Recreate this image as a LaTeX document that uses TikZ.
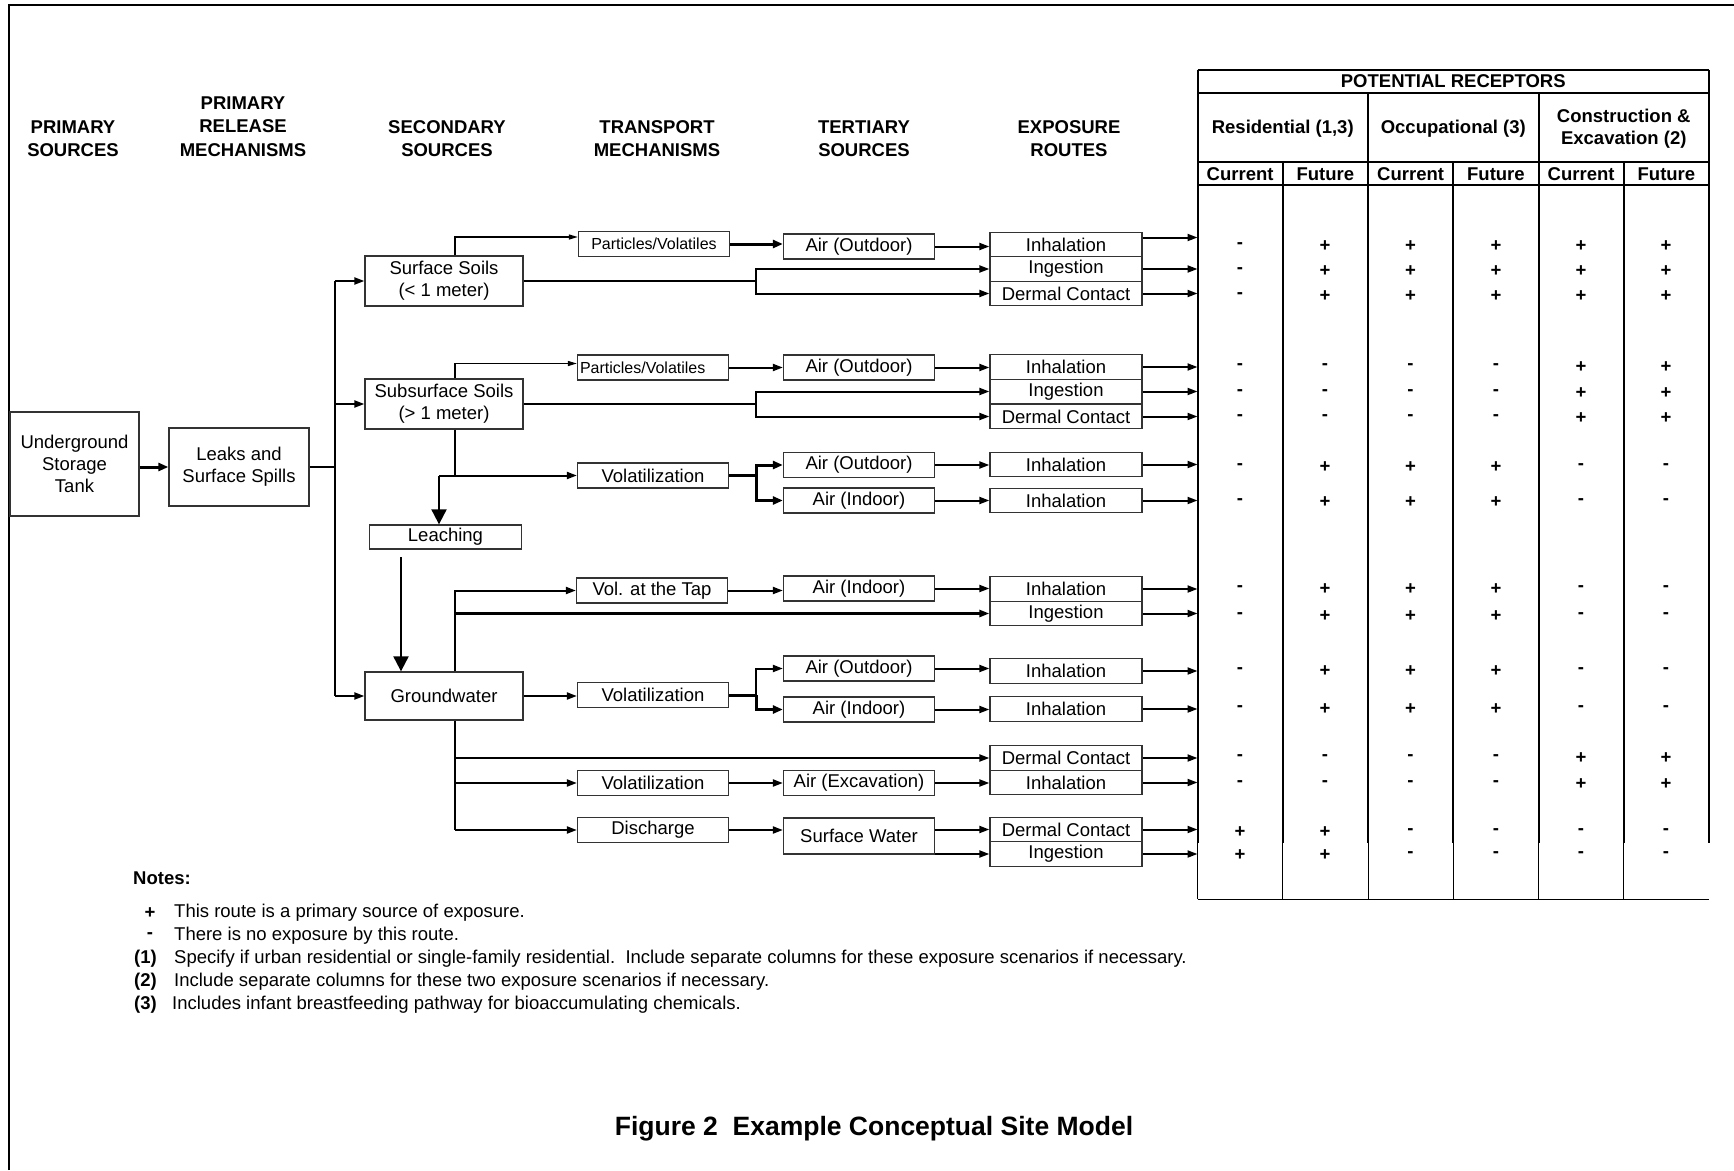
\documentclass[tikz,border=0pt]{standalone}
\usepackage{fontspec}
\setmainfont{Liberation Sans}
\usetikzlibrary{arrows.meta,calc}

\newcommand\fsbox{\fontsize{18.5}{22}\selectfont}
\newcommand\fshead{\fontsize{18.5}{23.3}\selectfont\bfseries}
\newcommand\fssmall{\fontsize{16}{19}\selectfont}
\newcommand\fstitle{\fontsize{26.5}{30}\selectfont\bfseries}

\begin{document}
\begin{tikzpicture}[x=1pt, y=-1pt,
  box/.style={draw=black!80, line width=1.3pt, inner sep=0pt, align=center, font=\fsbox},
  tbox/.style={box, minimum width=151pt, minimum height=25pt},
  ebox/.style={box, minimum width=152pt, minimum height=24.5pt},
  hdr/.style={align=center, font=\fshead, inner sep=0pt},
  sgn/.style={font=\fshead, inner sep=0pt},
  note/.style={anchor=west, font=\fsbox, inner sep=0pt},
  cline/.style={line width=2pt},
  tabline/.style={line width=2pt},
  arr/.style={line width=2pt, -{Triangle[length=10pt,width=7pt]}},
  thinarr/.style={line width=1.3pt, -{Triangle[length=9pt,width=5pt]}},
  thickarr/.style={line width=3pt, -{Triangle[length=10pt,width=8pt]}},
  bigarr/.style={line width=2pt, -{Triangle[length=15pt,width=15pt]}}]

\useasboundingbox (0,0) rectangle (1734,1170);

% Cornice
\draw[line width=2pt] (8.5,1170) -- (8.5,4.5) -- (1734,4.5);

% Intestazioni
\node[hdr] (hPs) at (73,138.5) {PRIMARY\\SOURCES};
\node[hdr] (hPr) at (243,126.7) {PRIMARY\\RELEASE\\MECHANISMS};
\node[hdr] (hSs) at (447,138.5) {SECONDARY\\SOURCES};
\node[hdr] (hTm) at (657,138.5) {TRANSPORT\\MECHANISMS};
\node[hdr] (hTs) at (864,138.5) {TERTIARY\\SOURCES};
\node[hdr] (hEr) at (1069,138.5) {EXPOSURE\\ROUTES};

% Sorgenti primarie e secondarie
\node[box, minimum width=129pt, minimum height=104pt] (ust) at (74.5,464) {Underground\\Storage\\Tank};
\node[box, minimum width=140pt, minimum height=78pt] (leak) at (239,467) {Leaks and\\Surface Spills};
\node[box, minimum width=158pt, minimum height=50pt] (ss) at (444,281) {Surface Soils\\(< 1 meter)};
\node[box, minimum width=158pt, minimum height=50pt] (sub) at (444,404) {Subsurface Soils\\(> 1 meter)};
\node[box, minimum width=152pt, minimum height=24pt] (leach) at (445.5,537) {Leaching};
\node[box, minimum width=158pt, minimum height=48pt] (gw) at (444,696) {Groundwater};

% Meccanismi di trasporto
\node[tbox, font=\fssmall] (pv1) at (654,244) {Particles/Volatiles};
\node[tbox, font=\fssmall, text width=146pt, align=left] (pv2) at (653,367.5) {Particles/Volatiles};
\node[tbox] (vol1) at (653,475.5) {Volatilization};
\node[tbox] (tap) at (652,590.5) {Vol. at the Tap};
\node[tbox] (vol2) at (653,695) {Volatilization};
\node[tbox] (vol3) at (653,783) {Volatilization};
\node[tbox] (dis) at (653,830) {Discharge};

% Sorgenti terziarie
\node[tbox] (ao1) at (859,246.5) {Air (Outdoor)};
\node[tbox] (ao2) at (859,367.5) {Air (Outdoor)};
\node[tbox] (ao3) at (859,465) {Air (Outdoor)};
\node[tbox] (ai1) at (859,500.5) {Air (Indoor)};
\node[tbox] (ai2) at (859,588.5) {Air (Indoor)};
\node[tbox] (ao4) at (859,668.5) {Air (Outdoor)};
\node[tbox] (ai3) at (859,709.5) {Air (Indoor)};
\node[tbox] (aex) at (859,783) {Air (Excavation)};
\node[tbox, minimum height=36pt] (sw) at (859,836) {Surface Water};

% Vie di esposizione
\node[ebox] (in1) at (1066,244.5) {Inhalation};
\node[ebox] (ig1) at (1066,269) {Ingestion};
\node[ebox] (dc1) at (1066,293.5) {Dermal Contact};
\node[ebox] (in2) at (1066,367) {Inhalation};
\node[ebox] (ig2) at (1066,391.5) {Ingestion};
\node[ebox] (dc2) at (1066,416.5) {Dermal Contact};
\node[ebox] (in3) at (1066,464.5) {Inhalation};
\node[ebox] (in4) at (1066,500.5) {Inhalation};
\node[ebox] (in5) at (1066,589) {Inhalation};
\node[ebox] (ig5) at (1066,613.5) {Ingestion};
\node[ebox] (in6) at (1066,671) {Inhalation};
\node[ebox] (in7) at (1066,709) {Inhalation};
\node[ebox] (dc3) at (1066,758) {Dermal Contact};
\node[ebox] (in8) at (1066,782.5) {Inhalation};
\node[ebox] (dc4) at (1066,829.5) {Dermal Contact};
\node[ebox] (ig6) at (1066,854) {Ingestion};

% Linee guida
\coordinate (bus) at (335,0);
\coordinate (tr) at (455,0);
\coordinate (sp) at (756,0);
\coordinate (tab) at (1197.5,0);

% Rilascio
\draw[thickarr] (ust.east |- leak) -- (leak.west);
\draw[cline] (leak.east) -- (leak.east -| bus);
\draw[cline] (bus |- ss) -- (bus |- gw);
\draw[arr] (bus |- ss) -- (ss.west);
\draw[arr] (bus |- sub) -- (sub.west);
\draw[arr] (bus |- gw) -- (gw.west);

% Suoli superficiali
\draw[thinarr] (ss.north -| tr) |- ($(pv1.west)+(0,-7)$);
\draw[thickarr] (pv1.east) -- (pv1.east -| ao1.west);
\draw[arr] (ao1.east) -- (ao1.east -| in1.west);
\draw[cline] (ss.east) -- (ss.east -| sp);
\draw[arr] (ss.east -| sp) |- (ig1.west);
\draw[arr] (ss.east -| sp) |- (dc1.west);

% Suoli profondi
\draw[thinarr] (sub.north -| tr) |- ($(pv2.west)+(0,-4)$);
\draw[arr] (pv2.east) -- (pv2.east -| ao2.west);
\draw[arr] (ao2.east) -- (ao2.east -| in2.west);
\draw[cline] (sub.east) -- (sub.east -| sp);
\draw[arr] (sub.east -| sp) |- (ig2.west);
\draw[arr] (sub.east -| sp) |- (dc2.west);
\draw[arr] (sub.south -| tr) |- (vol1.west);
\coordinate (lk) at (439,475.5);
\draw[cline] (lk) -- (lk -| tr);
\draw[bigarr] (lk) -- (lk |- leach.north);
\draw[line width=3pt] (vol1.east) -- (vol1.east -| sp);
\draw[thickarr] (vol1.east -| sp) |- (ao3.west);
\draw[thickarr] (vol1.east -| sp) |- (ai1.west);
\draw[arr] (ao3.east) -- (ao3.east -| in3.west);
\draw[arr] (ai1.east) -- (ai1.east -| in4.west);

% Lisciviazione e falda
\coordinate (lv) at (401,557);
\draw[bigarr] (lv) -- (lv |- gw.north);
\draw[arr] (gw.north -| tr) |- (tap.west);
\draw[arr, line width=2.5pt] (tr |- ig5) -- (ig5.west);
\draw[arr] (tap.east) -- (tap.east -| ai2.west);
\draw[arr] (ai2.east) -- (ai2.east -| in5.west);
\draw[arr] (gw.east) -- (gw.east -| vol2.west);
\draw[line width=3pt] (vol2.east) -- (vol2.east -| sp);
\draw[arr] (vol2.east -| sp) |- (ao4.west);
\draw[thickarr] (vol2.east -| sp) |- (ai3.west);
\draw[arr] (ao4.east) -- (ao4.east -| in6.west);
\draw[arr] (ai3.east) -- (ai3.east -| in7.west);
\draw[cline] (gw.south -| tr) -- (tr |- dis);
\draw[arr] (tr |- dc3) -- (dc3.west);
\draw[arr] (tr |- vol3) -- (vol3.west);
\draw[arr] (tr |- dis) -- (dis.west);
\draw[arr] (vol3.east) -- (vol3.east -| aex.west);
\draw[arr] (aex.east) -- (aex.east -| in8.west);
\draw[arr] (dis.east) -- (dis.east -| sw.west);
\draw[arr] (sw.east |- dc4) -- (dc4.west);
\draw[arr] (sw.east |- ig6) -- (ig6.west);

% Verso i recettori
\coordinate (in1o) at ($(in1.east)+(0,-7)$);
\draw[arr] (in1o) -- (in1o -| tab);
\foreach \ex in {ig1,dc1,in2,ig2,dc2,in3,in4,in5,ig5,in6,in7,dc3,in8,dc4,ig6}
  \draw[arr] (\ex.east) -- (\ex.east -| tab);

% Tabella recettori
\draw[tabline] (1197.5,70) -- (1709,70) (1197.5,92.5) -- (1709,92.5)
  (1197.5,162) -- (1709,162) (1197.5,185) -- (1709,185);
\draw[tabline] (1197.5,70) -- (1197.5,843) (1709,70) -- (1709,843);
\foreach \i in {2,4}
  \draw[tabline] (1197.5+\i*85.25,92.5) -- (1197.5+\i*85.25,843);
\foreach \i in {1,3,5}
  \draw[tabline] (1197.5+\i*85.25,162) -- (1197.5+\i*85.25,843);
\foreach \i in {0,...,5}
  \draw[line width=1pt] (1197.5+\i*85.25,843) -- (1197.5+\i*85.25,899);
\draw[line width=1pt] (1197.5,899) -- (1709,899);

\node[hdr] (pr) at (1453.25,81) {POTENTIAL RECEPTORS};
\node[hdr] (res) at (1282.75,129) {Residential (1,3)};
\node[hdr] (occ) at (1453.25,129) {Occupational (3)};
\node[hdr, font=\fontsize{18.5}{22}\selectfont\bfseries] (con) at (1623.75,129) {Construction \&\\Excavation (2)};
\foreach \i in {0,2,4} {
  \node[hdr] (cu\i) at (1240.1+\i*85.25,174) {Current};
  \node[hdr] (fu\i) at (1325.4+\i*85.25,174) {Future};
}

% Segni + / -
\foreach \y/\sA/\sB/\sC/\sD/\sE/\sF [count=\i] in {
  246/-/+/+/+/+/+, 271/-/+/+/+/+/+, 296/-/+/+/+/+/+,
  367/-/-/-/-/+/+, 393/-/-/-/-/+/+, 418/-/-/-/-/+/+,
  467/-/+/+/+/-/-, 502/-/+/+/+/-/-,
  589/-/+/+/+/-/-, 616/-/+/+/+/-/-,
  671/-/+/+/+/-/-, 709/-/+/+/+/-/-,
  758/-/-/-/-/+/+, 784/-/-/-/-/+/+,
  832/+/+/-/-/-/-, 855/+/+/-/-/-/-} {
  \node[sgn] (s\i-1) at (1240,\y) {\sA};
  \node[sgn] (s\i-2) at (1325,\y) {\sB};
  \node[sgn] (s\i-3) at (1410.5,\y) {\sC};
  \node[sgn] (s\i-4) at (1496,\y) {\sD};
  \node[sgn] (s\i-5) at (1581,\y) {\sE};
  \node[sgn] (s\i-6) at (1666,\y) {\sF};
}

% Note
\node[note, font=\fshead] (nt) at (133,878) {Notes:};
\node[sgn] (n1s) at (150,913) {+};
\node[note] (n1) at (174,913) {This route is a primary source of exposure.};
\node[sgn] (n2s) at (150,936) {-};
\node[note] (n2) at (174,936) {There is no exposure by this route.};
\node[note, font=\fshead] (n3s) at (134,959) {(1)};
\node[note] (n3) at (174,959) {Specify if urban residential or single-family residential.\ \ Include separate columns for these exposure scenarios if necessary.};
\node[note, font=\fshead] (n4s) at (134,982) {(2)};
\node[note] (n4) at (174,982) {Include separate columns for these two exposure scenarios if necessary.};
\node[note, font=\fshead] (n5s) at (134,1005) {(3)};
\node[note] (n5) at (172,1005) {Includes infant breastfeeding pathway for bioaccumulating chemicals.};

% Titolo
\node[font=\fstitle] (ttl) at (874,1129) {Figure 2\ \ Example Conceptual Site Model};

\end{tikzpicture}
\end{document}
